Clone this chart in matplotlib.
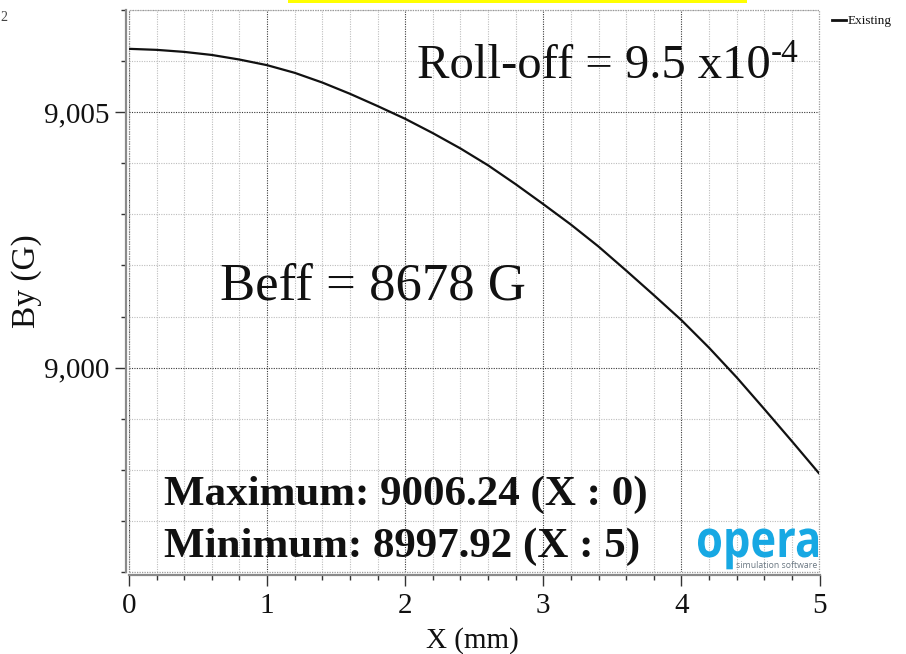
import matplotlib
matplotlib.use("Agg")
import matplotlib.pyplot as plt
from matplotlib.patches import Rectangle, PathPatch
from matplotlib.textpath import TextPath
from matplotlib.font_manager import FontProperties
from matplotlib.transforms import Affine2D
import numpy as np

# ---------------- data ----------------
x_mm = [0.0, 0.2, 0.4, 0.6, 0.8, 1.0, 1.2, 1.4, 1.6, 1.8, 2.0, 2.2, 2.4,
        2.6, 2.8, 3.0, 3.2, 3.4, 3.6, 3.8, 4.0, 4.2, 4.4, 4.6, 4.8, 5.0]
by_gauss = [9006.24, 9006.22, 9006.18, 9006.12, 9006.03, 9005.92, 9005.77,
            9005.58, 9005.36, 9005.12, 9004.87, 9004.59, 9004.29, 9003.96,
            9003.59, 9003.20, 9002.80, 9002.37, 9001.90, 9001.42, 9000.93,
            9000.39, 8999.81, 8999.19, 8998.56, 8997.92]
series_name = "Existing"
x_ticks = [0, 1, 2, 3, 4, 5]
x_ticklabels = ["0", "1", "2", "3", "4", "5"]
y_ticks = [9000, 9005]
y_ticklabels = ["9,000", "9,005"]
x_label = "X (mm)"
y_label = "By (G)"
rolloff_text = "Roll-off = 9.5 x10"
rolloff_exp = "-4"
beff_text = "Beff = 8678 G"
max_text = "Maximum: 9006.24 (X : 0)"
min_text = "Minimum: 8997.92 (X : 5)"

# ---------------- figure ----------------
W, H = 906, 654
plt.rcParams['font.family'] = ['Liberation Serif', 'DejaVu Serif']
fig = plt.figure(figsize=(W / 100, H / 100), dpi=100)

def fx(px):
    return px / W

def fy(py):
    return 1 - py / H

ax_l, ax_r, ax_t, ax_b = 129, 819.5, 10, 572
ax = fig.add_axes([fx(ax_l), fy(ax_b), (ax_r - ax_l) / W, (ax_b - ax_t) / H])

ax.plot(x_mm, by_gauss, color='#111111', lw=1.6, solid_capstyle='butt',
        solid_joinstyle='round', zorder=5)
ax.set_xlim(0, 5)
ax.set_ylim(8996, 9007)

ax.set_xticks(x_ticks)
ax.set_xticklabels(x_ticklabels)
ax.set_xticks(np.arange(0, 5.01, 0.2), minor=True)
ax.set_yticks(y_ticks)
ax.set_yticklabels(y_ticklabels)
ax.set_yticks(np.arange(8996, 9007.01, 1), minor=True)

ax.grid(which='major', color='#3a3a3a', linestyle=(0, (1, 1.2)), lw=0.8)
ax.grid(which='minor', color='#bdbdbd', linestyle=(0, (1, 1.2)), lw=0.8)
ax.set_axisbelow(True)

for s in ['top', 'right']:
    ax.spines[s].set_visible(False)
for s in ['left', 'bottom']:
    ax.spines[s].set_position(('outward', 2.3))
    ax.spines[s].set_color('#8a8a8a')
    ax.spines[s].set_linewidth(1.6)

ax.add_patch(Rectangle((0, 0), 1, 1, transform=ax.transAxes, fill=False,
                       edgecolor='#9a9a9a', lw=0.9, linestyle=(0, (1, 1)),
                       zorder=4, clip_on=False))

ax.tick_params(axis='both', which='major', length=8, width=1.0, color='#333333',
               labelsize=21, labelcolor='#111111')
ax.tick_params(axis='both', which='minor', length=3.5, width=1.0, color='#333333')
ax.tick_params(axis='y', which='major', pad=4)
ax.tick_params(axis='x', which='major', pad=5)

fig.text(fx(27), fy(281), y_label, rotation=90, ha='center', va='center',
         fontsize=24, color='#111111')
fig.text(fx(472), fy(648), x_label, ha='center', va='baseline',
         fontsize=21, color='#111111')

# annotations
fig.text(fx(417), fy(78), rolloff_text, fontsize=35, va='baseline', ha='left',
         color='#111111')
fig.text(fx(771), fy(62), rolloff_exp, fontsize=24, va='baseline', ha='left',
         color='#111111')
fig.text(fx(220), fy(300), beff_text, fontsize=38, va='baseline', ha='left',
         color='#111111')
fig.text(fx(164), fy(505), max_text, fontsize=31, fontweight='bold',
         va='baseline', ha='left', color='#111111')
fig.text(fx(164), fy(557), min_text, fontsize=31, fontweight='bold',
         va='baseline', ha='left', color='#111111')

# legend
fig.add_artist(plt.Line2D([fx(832), fx(846)], [fy(19.5), fy(19.5)],
                          color='#111111', lw=2.0))
fig.text(fx(848), fy(24), series_name, fontsize=9.5, va='baseline', ha='left',
         color='#111111')

# opera logo (text drawn as path, scaled to fit box)
logo_font = FontProperties(family='Open Sans', weight='bold')
tp = TextPath((0, 0), "opera", size=1, prop=logo_font)
ext = tp.get_extents()
xh_tp = TextPath((0, 0), "x", size=1, prop=logo_font).get_extents().y1
target_w = 818 - 698
target_xh = 28
sx = target_w / ext.width
sy = target_xh / xh_tp
tr = (Affine2D().translate(-ext.x0, 0).scale(sx / W, sy / H)
      .translate(fx(698), fy(557)) + fig.transFigure)
fig.add_artist(PathPatch(tp, transform=tr, facecolor='#17a8e3',
                         edgecolor='none'))
fig.text(fx(817), fy(568), "simulation software", fontsize=6.3,
         family='Open Sans', color='#6b7883', ha='right', va='baseline')

# cropped header remnants
fig.add_artist(Rectangle((fx(288), fy(2.5)), (747 - 288) / W, 2.5 / H,
                         transform=fig.transFigure, facecolor='#ffff00',
                         edgecolor='none'))
fig.text(fx(0.5), fy(21), "2", fontsize=10, color='#444444', ha='left',
         va='baseline')

fig.savefig("out.png", dpi=100)
